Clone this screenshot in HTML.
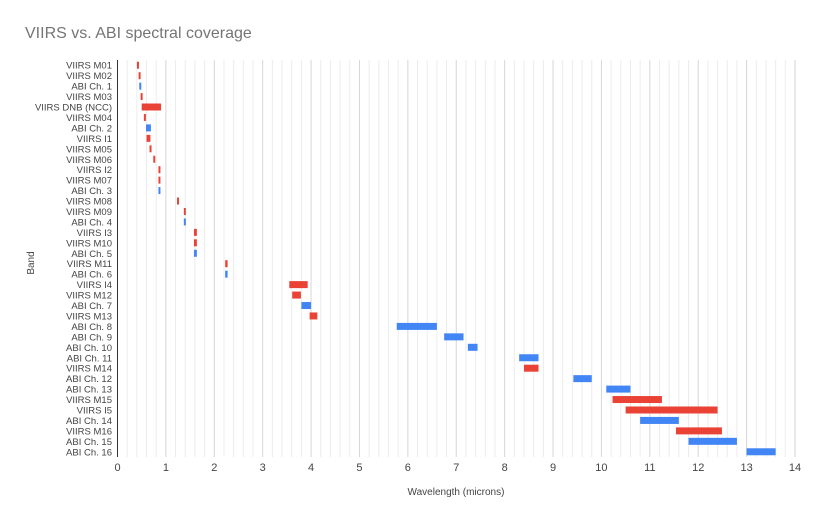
<!DOCTYPE html>
<html><head><meta charset="utf-8"><style>
body{margin:0;background:#fff;font-family:"Liberation Sans",Arial,sans-serif}
svg text{font-family:"Liberation Sans",Arial,sans-serif}
</style></head><body>
<svg id="chart" width="820" height="523" xmlns="http://www.w3.org/2000/svg">
<text x="25" y="38" font-size="16" fill="#757575">VIIRS vs. ABI spectral coverage</text>
<g id="grid"></g>
<g id="bars"></g>
<g id="ylabels"></g>
<g id="xlabels"></g>
<text x="0" y="0" font-size="10" fill="#444" text-anchor="middle" transform="translate(34,263) rotate(-90)">Band</text>
<text x="456" y="495" font-size="10" fill="#444" text-anchor="middle">Wavelength (microns)</text>
</svg>
<script>
const bands=["VIIRS M01","VIIRS M02","ABI Ch. 1","VIIRS M03","VIIRS DNB (NCC)","VIIRS M04","ABI Ch. 2","VIIRS I1","VIIRS M05","VIIRS M06","VIIRS I2","VIIRS M07","ABI Ch. 3","VIIRS M08","VIIRS M09","ABI Ch. 4","VIIRS I3","VIIRS M10","ABI Ch. 5","VIIRS M11","ABI Ch. 6","VIIRS I4","VIIRS M12","ABI Ch. 7","VIIRS M13","ABI Ch. 8","ABI Ch. 9","ABI Ch. 10","ABI Ch. 11","VIIRS M14","ABI Ch. 12","ABI Ch. 13","VIIRS M15","VIIRS I5","ABI Ch. 14","VIIRS M16","ABI Ch. 15","ABI Ch. 16"];
const starts=[0.402,0.436,0.45,0.478,0.5,0.545,0.59,0.6,0.662,0.739,0.846,0.846,0.846,1.23,1.371,1.371,1.58,1.58,1.58,2.225,2.225,3.55,3.61,3.8,3.97,5.77,6.75,7.24,8.3,8.4,9.42,10.1,10.23,10.5,10.8,11.54,11.8,13.0];
const ends=[0.422,0.454,0.49,0.498,0.9,0.565,0.69,0.68,0.682,0.754,0.885,0.885,0.885,1.25,1.386,1.386,1.64,1.64,1.64,2.275,2.275,3.93,3.79,4.0,4.13,6.6,7.15,7.44,8.7,8.7,9.8,10.6,11.25,12.4,11.6,12.49,12.8,13.6];
const xTicks=[0,1,2,3,4,5,6,7,8,9,10,11,12,13,14];
const NS="http://www.w3.org/2000/svg";
const x0=117.5,x1=795,yTop=60,yBottom=457;
const sx=v=>x0+(v-0)/(14-0)*(x1-x0);
const rowH=(yBottom-yTop)/bands.length;
const sy=i=>yTop+rowH*(i+0.5);
function mk(tag,attrs,parent){const e=document.createElementNS(NS,tag);for(const k in attrs)e.setAttribute(k,attrs[k]);parent.appendChild(e);return e;}
const grid=document.getElementById('grid');
for(let m=0;m<=14*5;m++){const v=m/5;const major=m%5===0;
 const l=mk('line',{x1:sx(v),x2:sx(v),y1:yTop,y2:yBottom,stroke:major?'#d6d6d6':'#ececec','stroke-width':1},grid);
 
 }
const ax=mk('line',{x1:x0,x2:x0,y1:yTop,y2:yBottom,stroke:'#333','stroke-width':1},grid);


const bars=document.getElementById('bars');
bands.forEach((b,i)=>{const blue=b.startsWith('ABI');
 const w=Math.max(2,sx(ends[i])-sx(starts[i]));
 const r=mk('rect',{x:sx(starts[i]),y:sy(i)-3.5,width:w,height:7,fill:blue?'#4285f4':'#ea4335'},bars);
 
 });
const yl=document.getElementById('ylabels');
bands.forEach((b,i)=>{const t=mk('text',{x:112,y:sy(i)+3.5,'font-size':9.5,fill:'#444','text-anchor':'end'},yl);t.textContent=b;
 
 });
const xl=document.getElementById('xlabels');
xTicks.forEach(v=>{const t=mk('text',{x:sx(v),y:471,'font-size':11,fill:'#444','text-anchor':'middle'},xl);t.textContent=v;
 
 });
</script>
</body></html>
